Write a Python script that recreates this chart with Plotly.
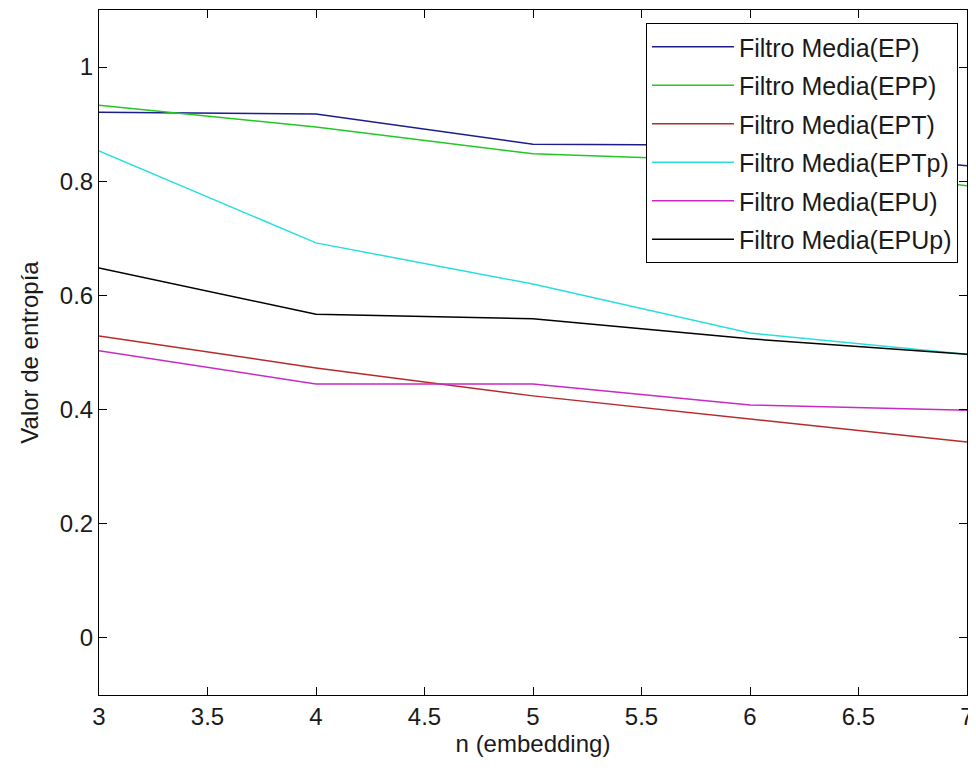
import plotly.graph_objects as go

n_embedding = [3, 4, 5, 6, 7]
ep = [0.921, 0.918, 0.865, 0.863, 0.827]
epp = [0.933, 0.895, 0.848, 0.835, 0.792]
ept = [0.529, 0.473, 0.424, 0.384, 0.343]
eptp = [0.853, 0.692, 0.620, 0.534, 0.497]
epu = [0.503, 0.445, 0.445, 0.408, 0.399]
epup = [0.648, 0.567, 0.559, 0.524, 0.497]

series_names = ["Filtro Media(EP)", "Filtro Media(EPP)", "Filtro Media(EPT)",
                "Filtro Media(EPTp)", "Filtro Media(EPU)", "Filtro Media(EPUp)"]
series_values = [ep, epp, ept, eptp, epu, epup]
colors = ["#1c1c8c", "#22c822", "#b82a2a", "#2adede", "#c82ac8", "#000000"]

fig = go.Figure()
for i, (name, vals, col) in enumerate(zip(series_names, series_values, colors)):
    fig.add_trace(go.Scatter(x=n_embedding, y=vals, mode="lines", name=name,
                             legendgroup=f"g{i}",
                             line=dict(color=col, width=1.5)))

font = dict(family="Liberation Sans, Arial, sans-serif", size=24, color="#1a1a1a")
legend_font = dict(family="Liberation Sans, Arial, sans-serif", size=25, color="#1a1a1a")
axis_common = dict(showgrid=False, zeroline=False, showline=True, linecolor="black",
                   linewidth=1, mirror="ticks", ticks="inside", ticklen=8,
                   tickcolor="black", tickfont=font, automargin=False)

# page body has an 8px default margin, so the figure is sized to compensate
fig.update_layout(
    width=968, height=763,
    margin=dict(l=91, r=9, t=2, b=76),
    paper_bgcolor="white", plot_bgcolor="white",
    font=font,
    showlegend=True,
    legend=dict(x=0.9896, y=0.981, xanchor="right", yanchor="top",
                bgcolor="white", bordercolor="black", borderwidth=1,
                font=legend_font, tracegroupgap=3, itemwidth=82,
                traceorder="grouped"),
    xaxis=dict(range=[3, 7], dtick=0.5, tick0=3,
               title=dict(text="n (embedding)", font=font, standoff=6),
               **axis_common),
    yaxis=dict(range=[-0.1, 1.1], dtick=0.2, tick0=0,
               title=dict(text="Valor de entropía", font=font, standoff=14),
               **axis_common),
)

fig.write_html("out.html")
